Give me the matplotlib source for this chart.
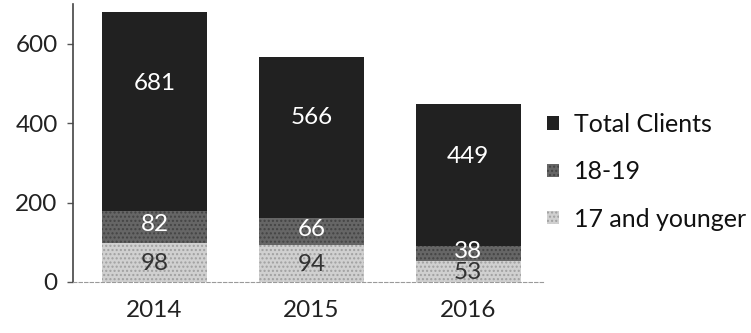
import numpy as np
import matplotlib.pyplot as plt
import matplotlib.patches as mpatches

years = ["2014", "2015", "2016"]
total_clients = [681, 566, 449]
age_18_19 = [82, 66, 38]
age_17_younger = [98, 94, 53]
# where the white total labels sit inside the dark bars
total_label_y = [500, 413, 315]

plt.rcParams['font.family'] = ['Lato', 'DejaVu Sans']

fig = plt.figure(figsize=(7.51, 3.33), dpi=100)
ax = fig.add_axes([0.0972, 0.1532, 0.6285, 0.8348])

x = np.arange(len(years))
w = 0.67
dark = '#212121'
mid = '#666666'
light = '#d0d0d0'

# total bar drawn behind, age groups stacked on top of it from zero
ax.bar(x, total_clients, w, color=dark, linewidth=0, zorder=1)
ax.bar(x, age_17_younger, w, facecolor=light, edgecolor='#a0a0a0',
       hatch='....', linewidth=0, zorder=2)
ax.bar(x, age_18_19, w, bottom=age_17_younger, facecolor=mid,
       edgecolor='#444444', hatch='....', linewidth=0, zorder=2)

for i in range(len(years)):
    ax.text(x[i], total_label_y[i], str(total_clients[i]), color='white',
            ha='center', va='center', fontsize=17.5, zorder=3)
    ax.text(x[i], age_17_younger[i] + age_18_19[i] / 2 + 6, str(age_18_19[i]),
            color='white', ha='center', va='center', fontsize=17.5, zorder=3)
    ax.text(x[i], age_17_younger[i] / 2 - 3, str(age_17_younger[i]),
            color='#333333', ha='center', va='center', fontsize=17.5, zorder=3)

ax.set_xlim(-0.52, 2.49)
ax.set_ylim(0, 700)
ax.set_yticks([0, 200, 400, 600])
ax.set_xticks(x)
ax.set_xticklabels(years)
ax.tick_params(axis='y', labelsize=17.5, length=4, width=1, pad=7,
               color='#555555', labelcolor='#222222')
ax.tick_params(axis='x', labelsize=17.5, length=0, pad=13, labelcolor='#222222')

for s in ['top', 'right']:
    ax.spines[s].set_visible(False)
ax.spines['left'].set_color('#444444')
ax.spines['left'].set_linewidth(1.2)
ax.spines['bottom'].set_color('#9a9a9a')
ax.spines['bottom'].set_linestyle((0, (3, 2)))
ax.spines['bottom'].set_linewidth(0.8)

handles = [
    mpatches.Patch(facecolor=dark, linewidth=0, label='Total Clients'),
    mpatches.Patch(facecolor=mid, edgecolor='#444444', hatch='....',
                   linewidth=0, label='18-19'),
    mpatches.Patch(facecolor=light, edgecolor='#a0a0a0', hatch='....',
                   linewidth=0, label='17 and younger'),
]
fig.legend(handles=handles, loc='upper left', bbox_to_anchor=(0.699, 0.728),
           frameon=False, fontsize=18, handlelength=0.45, handleheight=0.45,
           handletextpad=0.6, labelspacing=0.97, labelcolor='#111111')

fig.savefig('out.png', dpi=100)
